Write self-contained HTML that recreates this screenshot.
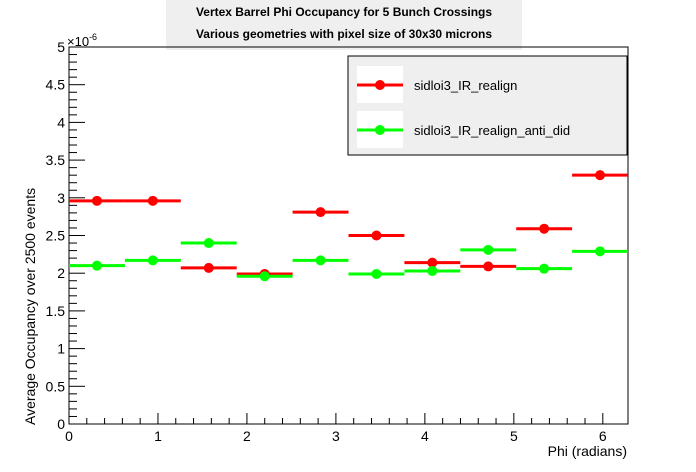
<!DOCTYPE html>
<html><head><meta charset="utf-8"><style>
body{margin:0;background:#fff;}
svg{display:block;font-family:"Liberation Sans",Arial,sans-serif;}
</style></head><body>
<svg id="c" width="696" height="472">
<rect x="166" y="0" width="356" height="50" fill="#efefef"/>
<text x="344" y="16" text-anchor="middle" font-size="12" font-weight="bold">Vertex Barrel Phi Occupancy for 5 Bunch Crossings</text>
<text x="344" y="38" text-anchor="middle" font-size="12" font-weight="bold">Various geometries with pixel size of 30x30 microns</text>
<g id="axes"></g>
<g id="marks"></g>
<rect x="348" y="56" width="279" height="99" fill="#efefef" stroke="#000" stroke-width="1"/>
<g>
<rect x="357" y="66" width="46" height="37" fill="#fff"/>
<line x1="357" y1="85" x2="403" y2="85" stroke="#f00" stroke-width="3"/><circle cx="380" cy="85" r="5" fill="#f00"/>
<text x="414" y="90" font-size="13">sidloi3_IR_realign</text></g>
<g>
<rect x="357" y="111" width="46" height="37" fill="#fff"/>
<line x1="357" y1="130" x2="403" y2="130" stroke="#0f0" stroke-width="3"/><circle cx="380" cy="130" r="5" fill="#0f0"/>
<text x="414" y="135" font-size="13">sidloi3_IR_realign_anti_did</text></g>
<text x="627" y="456" text-anchor="end" font-size="14">Phi (radians)</text>
<text transform="translate(35,425) rotate(-90)" font-size="14">Average Occupancy over 2500 events</text>
<text x="67" y="46" font-size="13">×10<tspan dy="-6" font-size="9">-6</tspan></text>
</svg>
<script>
const redVals=[2.96,2.96,2.07,1.99,2.81,2.50,2.14,2.09,2.59,3.30];
const greenVals=[2.10,2.17,2.40,1.96,2.17,1.99,2.03,2.31,2.06,2.29];
const xTicks=[0,1,2,3,4,5,6];
const yTicks=[0,0.5,1,1.5,2,2.5,3,3.5,4,4.5,5];
const X0=69,X1=628,Y0=424,Y1=47,XMAX=2*Math.PI,YMAX=5;
const xs=v=>X0+v/XMAX*(X1-X0), ys=v=>Y0-v/YMAX*(Y0-Y1);
const NS="http://www.w3.org/2000/svg";
function mk(t,a,p){const e=document.createElementNS(NS,t);for(const k in a)e.setAttribute(k,a[k]);p.appendChild(e);return e;}
const ax=document.getElementById('axes'),mg=document.getElementById('marks');
const fr=mk('rect',{x:X0,y:Y1,width:X1-X0,height:Y0-Y1,fill:'none',stroke:'#000','stroke-width':1},ax);


for(let v=0;v<=6.2;v+=0.2){const big=Math.abs(v-Math.round(v))<1e-6;mk('line',{x1:xs(v),x2:xs(v),y1:Y0,y2:Y0-(big?11:6),stroke:'#000'},ax);}
xTicks.forEach(v=>{const t=mk('text',{x:xs(v),y:Y0+17,'text-anchor':'middle','font-size':14},ax);t.textContent=v;

});
for(let v=0;v<=5.001;v+=0.1){const big=Math.abs(v*2-Math.round(v*2))<1e-6;mk('line',{x1:X0,x2:X0+(big?16:8),y1:ys(v),y2:ys(v),stroke:'#000'},ax);}
yTicks.forEach(v=>{const t=mk('text',{x:X0-4,y:ys(v)+5,'text-anchor':'end','font-size':14},ax);t.textContent=v;

});
function series(vals,col,name){const w=XMAX/vals.length;vals.forEach((v,i)=>{const g=mk('g',{},mg);


mk('line',{x1:xs(i*w),x2:xs((i+1)*w),y1:ys(v),y2:ys(v),stroke:col,'stroke-width':3},g);
mk('circle',{cx:xs((i+0.5)*w),cy:ys(v),r:5,fill:col},g);});}
series(redVals,'#f00','red');
series(greenVals,'#0f0','green');
</script>
</body></html>
